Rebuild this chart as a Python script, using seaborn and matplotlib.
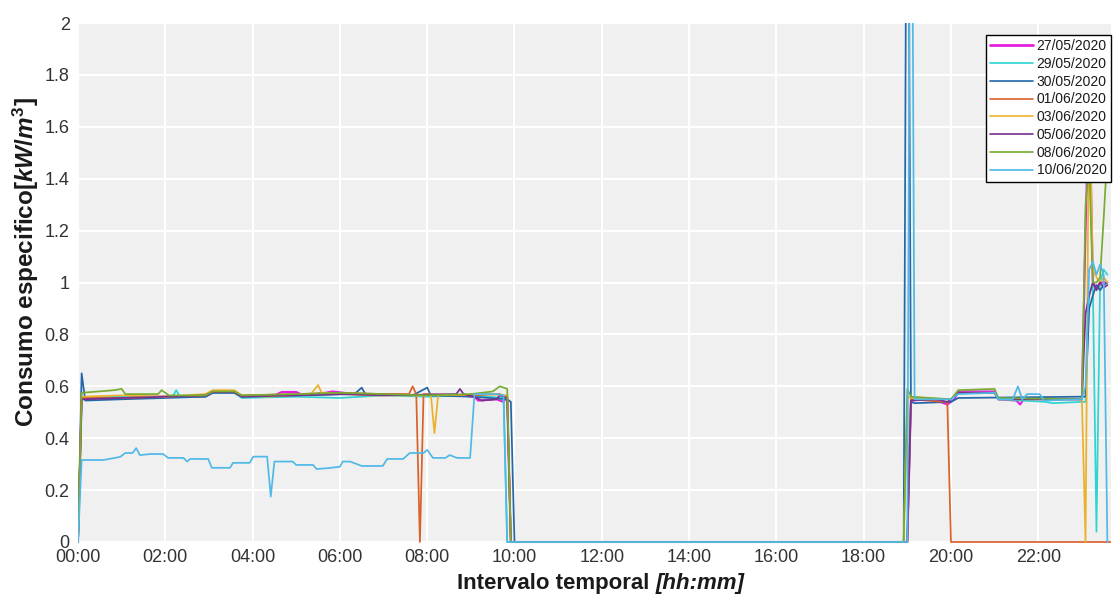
import numpy as np
import pandas as pd
import matplotlib
matplotlib.use("Agg")
import matplotlib.pyplot as plt
import seaborn as sns
from matplotlib.ticker import FixedLocator, FixedFormatter
from matplotlib.transforms import Bbox, TransformedBbox

# ---------------- data (time in minutes since 00:00, value in kW/m3) ----------------
dates = ["27/05/2020", "29/05/2020", "30/05/2020", "01/06/2020",
         "03/06/2020", "05/06/2020", "08/06/2020", "10/06/2020"]
colors = ["#e21fe0", "#2fd3d3", "#2367a8", "#d9622b",
          "#ecb12a", "#7b2f8f", "#77ac30", "#4fb9e8"]

t_2705 = [0, 5, 40, 90, 175, 185, 215, 225, 270, 280, 300, 310, 340, 350, 380, 420, 470, 520, 545, 550,
          575, 585, 590, 595, 1140, 1145, 1165, 1180, 1190, 1195, 1205, 1210, 1260, 1265, 1290, 1295, 1300,
          1340, 1380, 1385, 1390, 1395, 1400, 1405, 1410, 1415]
v_2705 = [0, 0.55, 0.555, 0.56, 0.56, 0.575, 0.575, 0.56, 0.565, 0.578, 0.578, 0.565, 0.575, 0.58, 0.57,
          0.57, 0.565, 0.565, 0.56, 0.545, 0.55, 0.54, 0.56, 0, 0, 0.545, 0.55, 0.545, 0.535, 0.53, 0.55,
          0.58, 0.58, 0.55, 0.545, 0.53, 0.55, 0.55, 0.55, 1.2, 1.75, 1.0, 0.98, 1.0, 1.0, 1.0]

t_2905 = [0, 5, 60, 100, 130, 135, 140, 175, 185, 215, 225, 300, 360, 420, 480, 540, 585, 590, 1140, 1145,
          1200, 1210, 1260, 1265, 1330, 1340, 1380, 1385, 1390, 1395, 1400, 1405, 1410, 1415]
v_2905 = [0, 0.555, 0.56, 0.555, 0.56, 0.585, 0.56, 0.56, 0.575, 0.575, 0.555, 0.56, 0.555, 0.565, 0.56,
          0.565, 0.555, 0, 0, 0.555, 0.55, 0.575, 0.575, 0.55, 0.54, 0.535, 0.54, 0.54, 0.95, 1.0, 0.04,
          1.0, 1.05, 1.03]

t_3005 = [0, 5, 10, 60, 120, 175, 185, 215, 225, 300, 380, 390, 395, 460, 470, 480, 485, 540, 590, 595,
          600, 1135, 1140, 1145, 1150, 1200, 1210, 1380, 1385, 1390, 1395, 1400, 1405, 1410, 1415]
v_3005 = [0, 0.65, 0.545, 0.55, 0.555, 0.56, 0.575, 0.575, 0.56, 0.565, 0.57, 0.595, 0.57, 0.565, 0.58,
          0.595, 0.565, 0.56, 0.55, 0.54, 0, 0, 3.5, 0.54, 0.535, 0.54, 0.555, 0.56, 0.56, 0.9, 0.95, 0.99,
          0.97, 0.99, 1.0]

t_0106 = [0, 5, 60, 120, 175, 185, 215, 225, 300, 360, 420, 455, 460, 465, 470, 475, 540, 580, 590, 595,
          1140, 1145, 1190, 1195, 1200, 1420]
v_0106 = [0, 0.555, 0.555, 0.56, 0.565, 0.58, 0.58, 0.565, 0.57, 0.575, 0.57, 0.57, 0.6, 0.57, 0, 0.57,
          0.565, 0.57, 0.56, 0, 0, 0.55, 0.54, 0.54, 0, 0]

t_0306 = [0, 5, 60, 120, 175, 185, 215, 225, 260, 320, 330, 335, 400, 480, 485, 490, 495, 560, 590, 595,
          1135, 1140, 1145, 1200, 1210, 1260, 1265, 1380, 1385, 1390, 1395, 1400, 1405, 1410, 1415]
v_0306 = [0, 0.56, 0.565, 0.56, 0.57, 0.585, 0.585, 0.565, 0.56, 0.57, 0.605, 0.575, 0.565, 0.565, 0.57,
          0.42, 0.565, 0.57, 0.565, 0, 0, 0.56, 0.555, 0.55, 0.575, 0.575, 0.55, 0.55, 0, 1.8, 1.05, 1.02,
          1.0, 1.02, 1.0]

t_0506 = [0, 5, 60, 120, 175, 185, 215, 225, 300, 360, 420, 520, 525, 530, 545, 555, 575, 580, 590, 595,
          1140, 1145, 1180, 1195, 1200, 1210, 1260, 1265, 1380, 1385, 1390, 1395, 1400, 1405, 1410, 1415]
v_0506 = [0, 0.55, 0.555, 0.56, 0.565, 0.578, 0.578, 0.56, 0.565, 0.57, 0.565, 0.57, 0.59, 0.57, 0.56,
          0.545, 0.55, 0.565, 0.555, 0, 0, 0.545, 0.55, 0.54, 0.55, 0.575, 0.575, 0.55, 0.55, 0.88, 0.95,
          1.0, 0.97, 1.0, 0.98, 0.99]

t_0806 = [0, 5, 50, 60, 65, 110, 115, 125, 175, 185, 215, 225, 300, 360, 420, 480, 540, 570, 580, 590,
          595, 1135, 1140, 1145, 1200, 1210, 1260, 1265, 1380, 1385, 1390, 1395, 1400, 1405, 1410, 1415]
v_0806 = [0, 0.575, 0.585, 0.59, 0.57, 0.57, 0.585, 0.565, 0.565, 0.58, 0.58, 0.565, 0.57, 0.575, 0.57,
          0.565, 0.57, 0.58, 0.6, 0.59, 0, 0, 0.59, 0.56, 0.55, 0.585, 0.59, 0.555, 0.55, 1.3, 1.45, 1.0,
          1.0, 1.02, 1.25, 1.5]

t_1006 = [0, 5, 35, 58, 65, 75, 80, 85, 100, 117, 124, 145, 150, 154, 179, 184, 209, 213, 236, 241, 260,
          265, 270, 295, 300, 323, 328, 345, 360, 364, 374, 390, 419, 425, 447, 456, 475, 480, 488, 505,
          511, 521, 539, 545, 575, 585, 590, 1140, 1145, 1150, 1200, 1210, 1260, 1265, 1285, 1292, 1298,
          1305, 1322, 1328, 1380, 1385, 1390, 1395, 1400, 1405, 1410, 1415]
v_1006 = [0, 0.316, 0.316, 0.328, 0.343, 0.343, 0.362, 0.335, 0.339, 0.339, 0.324, 0.324, 0.31, 0.32,
          0.32, 0.286, 0.286, 0.305, 0.305, 0.329, 0.329, 0.175, 0.31, 0.31, 0.297, 0.297, 0.281, 0.285,
          0.29, 0.31, 0.31, 0.293, 0.293, 0.32, 0.32, 0.343, 0.343, 0.355, 0.324, 0.324, 0.335, 0.324,
          0.324, 0.57, 0.57, 0.565, 0, 0, 3.5, 0.55, 0.55, 0.57, 0.575, 0.55, 0.55, 0.6, 0.55, 0.57, 0.57,
          0.545, 0.55, 0.6, 1.05, 1.08, 1.03, 1.07, 1.03, 0.0]

x_tick_minutes = [0, 120, 240, 360, 480, 600, 720, 840, 960, 1080, 1200, 1320]
x_tick_labels = ["00:00", "02:00", "04:00", "06:00", "08:00", "10:00", "12:00", "14:00",
                 "16:00", "18:00", "20:00", "22:00"]
y_ticks = [0, 0.2, 0.4, 0.6, 0.8, 1.0, 1.2, 1.4, 1.6, 1.8, 2.0]
y_tick_labels = ["0", "0.2", "0.4", "0.6", "0.8", "1", "1.2", "1.4", "1.6", "1.8", "2"]

series_t = [t_2705, t_2905, t_3005, t_0106, t_0306, t_0506, t_0806, t_1006]
series_v = [v_2705, v_2905, v_3005, v_0106, v_0306, v_0506, v_0806, v_1006]

frames = []
for d, tt, vv in zip(dates, series_t, series_v):
    frames.append(pd.DataFrame({"t": tt, "v": vv, "date": d}))
df = pd.concat(frames, ignore_index=True)

# ---------------- style ----------------
sns.set_theme(style="whitegrid")
plt.rcParams["font.family"] = ["Liberation Sans", "DejaVu Sans"]
plt.rcParams["mathtext.fontset"] = "custom"
plt.rcParams["mathtext.rm"] = "Liberation Sans:bold"
plt.rcParams["mathtext.bf"] = "Liberation Sans:bold"
plt.rcParams["mathtext.it"] = "Liberation Sans:italic:bold"

W, H = 1113, 598
fig = plt.figure(figsize=(W / 100, H / 100), dpi=100)
L, R, T, B = 78, 1111, 23, 542
ax = fig.add_axes([L / W, 1 - B / H, (R - L) / W, (B - T) / H])
ax.set_facecolor("#f0f0f0")

sns.lineplot(data=df, x="t", y="v", hue="date", hue_order=dates, palette=colors,
             estimator=None, sort=False, linewidth=1.25, ax=ax)
ax.lines[0].set_linewidth(1.5)

# let lines at zero show fully (clip only a couple of pixels below the axes)
clip = TransformedBbox(Bbox([[0, -0.006], [1, 1]]), ax.transAxes)
for ln in ax.lines:
    ln.set_clip_box(clip)

ax.set_xlim(0, 1420)
ax.set_ylim(0, 2)
ax.xaxis.set_major_locator(FixedLocator(x_tick_minutes))
ax.xaxis.set_major_formatter(FixedFormatter(x_tick_labels))
ax.yaxis.set_major_locator(FixedLocator(y_ticks))
ax.yaxis.set_major_formatter(FixedFormatter(y_tick_labels))
ax.grid(True, color="white", linewidth=1.5)
ax.set_axisbelow(True)
for s in ax.spines.values():
    s.set_visible(False)
ax.tick_params(axis="both", length=0, labelsize=13, colors="#333333")
ax.tick_params(axis="y", pad=6)
ax.tick_params(axis="x", pad=5)

ax.set_xlabel("")
ax.set_ylabel(r"Consumo especifico$\mathit{[kW/m^3]}$", fontsize=17.5, fontweight="bold",
              color="#1a1a1a")
ax.yaxis.set_label_coords((41 - L) / (R - L), (B - 262) / (B - T))

# legend
handles, labels = ax.get_legend_handles_labels()
if ax.get_legend() is not None:
    ax.get_legend().remove()
leg = ax.legend(handles, labels, loc="upper right", bbox_to_anchor=(1.0, 1 - 12 / (B - T)),
                borderaxespad=0, fontsize=10, handlelength=3.1, handletextpad=0.25,
                labelspacing=0.27, borderpad=0.3, fancybox=False, framealpha=1,
                edgecolor="black", facecolor="white")
leg.get_frame().set_linewidth(1.0)
for h in leg.get_lines():
    h.set_linewidth(1.2)
leg.get_lines()[0].set_linewidth(2.0)
for txt in leg.get_texts():
    txt.set_color("#1a1a1a")

# x label: bold + bold italic part
ly = 1 - 584 / H
t1 = fig.text(0, ly, "Intervalo temporal ", fontsize=16, fontweight="bold", color="#1a1a1a",
              va="center", ha="left")
t2 = fig.text(0, ly, "[hh:mm]", fontsize=16, fontweight="bold", fontstyle="italic",
              color="#1a1a1a", va="center", ha="left")
fig.canvas.draw()
r = fig.canvas.get_renderer()
w1 = t1.get_window_extent(r).width
w2 = t2.get_window_extent(r).width
x0 = 601 - (w1 + w2) / 2
t1.set_x(x0 / W)
t2.set_x((x0 + w1) / W)

fig.savefig("out.png", dpi=100, facecolor="white")
